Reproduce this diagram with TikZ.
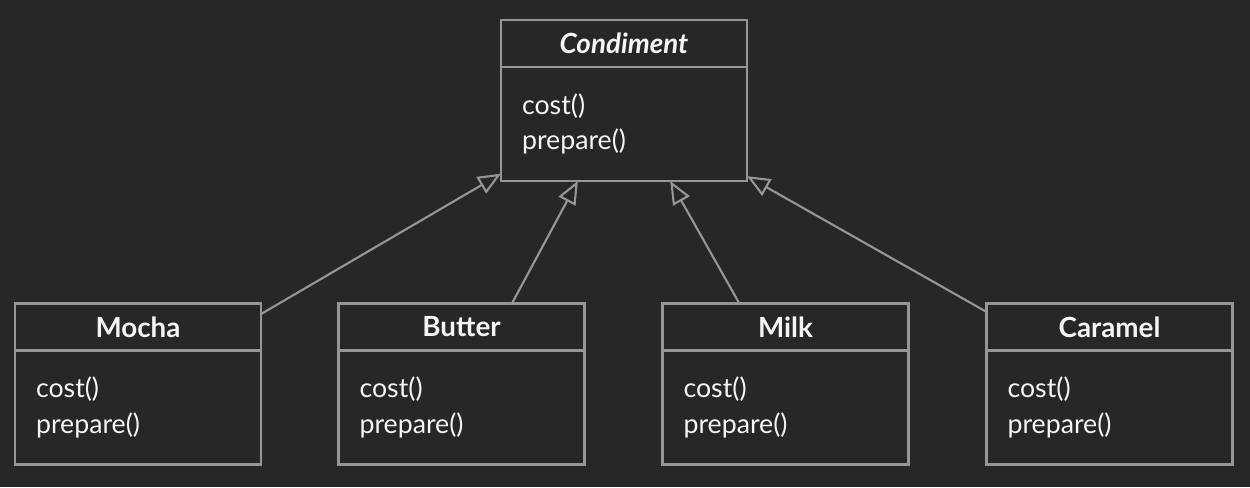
\documentclass[tikz,border=0pt]{standalone}
\usepackage{fontspec}
\setmainfont{Lato}
\usepackage{tikz}
\usetikzlibrary{positioning}
\usetikzlibrary{arrows.meta}
\definecolor{bgcol}{RGB}{39,39,39}
\definecolor{linecol}{RGB}{150,150,150}
\definecolor{txtcol}{RGB}{245,245,245}
\tikzset{
    classhead/.style = {rectangle, draw=linecol, line width=1.2pt, outer sep=0pt, text=txtcol, minimum width=4.92cm, minimum height=0.94cm, font=\fontsize{15.8}{18}\selectfont\bfseries},
    classbody/.style = {rectangle, draw=linecol, line width=1.2pt, outer sep=0pt, text=txtcol, text width=4.08cm, inner xsep=0.42cm, minimum height=2.28cm, align=left, font=\fontsize{15.2}{20}\selectfont},
}

\begin{document}
\begin{tikzpicture}[
	x=0.02cm,
	y=-0.02cm,
	inherit/.style = {draw=linecol, line width=1.2pt, -{Triangle[open,length=0.46cm,width=0.38cm]}}
]
\fill[bgcol] (0,0) rectangle (1250,487);
\useasboundingbox (0,0) rectangle (1250,487);
\node[classhead] at (624,43.5) (condT) {\itshape Condiment};
\node[classbody, below=0pt of condT] (condB) {cost()\\prepare()};
%
\node[classhead] at (138,327) (mochaT) {Mocha};
\node[classbody, below=0pt of mochaT] (mochaB) {cost()\\prepare()};
\node[classhead] at (461.5,327) (butterT) {Butter};
\node[classbody, below=0pt of butterT] (butterB) {cost()\\prepare()};
\node[classhead] at (785.5,327) (milkT) {Milk};
\node[classbody, below=0pt of milkT] (milkB) {cost()\\prepare()};
\node[classhead] at (1109.5,327) (caramelT) {Caramel};
\node[classbody, below=0pt of caramelT] (caramelB) {cost()\\prepare()};
%
\draw[inherit] (mochaT.6.5) -- (condB.202.7);
\draw[inherit] (butterT.25.8) -- (condB.231);
\draw[inherit] (milkT.153.7) -- (condB.309.6);
\draw[inherit] (caramelT.173.5) -- (condB.337.3);
\end{tikzpicture}
\end{document}
